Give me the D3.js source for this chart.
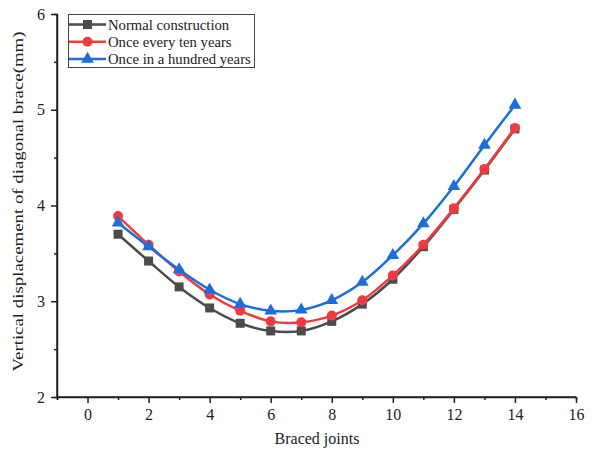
<!DOCTYPE html>
<html><head><meta charset="utf-8">
<script src="https://cdn.jsdelivr.net/npm/d3@7"></script>
<style>body{margin:0;background:#fff}svg{display:block}text{font-family:"Liberation Serif","Times New Roman",serif;fill:#222}</style>
</head><body><svg id="c" width="600" height="450"></svg>
<script>
const joints = [1,2,3,4,5,6,7,8,9,10,11,12,13,14];
const normal = [3.70,3.42,3.15,2.93,2.77,2.69,2.69,2.79,2.97,3.23,3.57,3.96,4.37,4.80];
const tenYears = [3.89,3.59,3.31,3.07,2.90,2.79,2.78,2.85,3.01,3.27,3.59,3.97,4.38,4.81];
const hundredYears = [3.82,3.57,3.33,3.12,2.97,2.90,2.91,3.01,3.20,3.48,3.81,4.20,4.63,5.05];
const seriesNames = ["Normal construction","Once every ten years","Once in a hundred years"];
const colors = ["#4b4b4b","#ef3b40","#1b6fdd"];
const markers = ["square","circle","triangle"];
const xTicks = [0,2,4,6,8,10,12,14,16];
const yTicks = [2,3,4,5,6];
const xTitle = "Braced joints";
const yTitle = "Vertical displacement of diagonal brace(mm)";

const svg = d3.select("#c");
const x = d3.scaleLinear().domain([-1,16]).range([57,576]);
const y = d3.scaleLinear().domain([2,6]).range([397,14]);
const axisColor = "#222";

// x axis
const gx = svg.append("g").attr("transform",`translate(0,${y(2)})`);
gx.call(d3.axisBottom(x).tickValues(xTicks).tickSize(6).tickPadding(6).tickFormat(d3.format("d")));
gx.append("g").call(d3.axisBottom(x).tickValues(d3.range(-1,16,2)).tickSize(3).tickFormat(""));
// y axis
const gy = svg.append("g").attr("transform",`translate(${x(-1)},0)`);
gy.call(d3.axisLeft(y).tickValues(yTicks).tickSize(6).tickPadding(6).tickFormat(d3.format("d")));
gy.append("g").call(d3.axisLeft(y).tickValues([2.5,3.5,4.5,5.5]).tickSize(3).tickFormat(""));
svg.selectAll(".domain").attr("stroke",axisColor).attr("stroke-width",1.5);
svg.selectAll(".tick line").attr("stroke",axisColor).attr("stroke-width",1.5);
svg.selectAll(".tick text").style("font-family",'"Liberation Serif",serif').style("font-size","16px").attr("fill","#333");
gx.select(".domain").attr("d",`M${x(-1)},0H${x(16)}`);
gy.select(".domain").attr("d",`M0,${y(2)}V${y(6)}`);

svg.append("text").attr("x",317).attr("y",444).attr("text-anchor","middle")
  .style("font-size","16px").text(xTitle);
svg.append("text").attr("transform",`translate(23,${(y(2)+y(6))/2-4}) rotate(-90)`).attr("text-anchor","middle")
  .style("font-size","14.5px").attr("fill","#333").attr("textLength",340).attr("lengthAdjust","spacingAndGlyphs").text(yTitle);

const data = [normal,tenYears,hundredYears];
const line = d3.line().x((d,i)=>x(joints[i])).y(d=>y(d)).curve(d3.curveCatmullRom.alpha(0.5));

function marker(g, type, color){
  if(type==="square") g.append("rect").attr("x",-4.5).attr("y",-4.5).attr("width",9).attr("height",9).attr("fill",color);
  else if(type==="circle") g.append("circle").attr("r",5).attr("fill",color);
  else g.append("path").attr("d",d3.symbol(d3.symbolTriangle,70)()).attr("fill",color);
}

data.forEach((vals,si)=>{
  svg.append("path").datum(vals).attr("d",line).attr("fill","none").attr("stroke",colors[si]).attr("stroke-width",2.5);
  vals.forEach((v,i)=>{
    const g = svg.append("g").attr("transform",`translate(${x(joints[i])},${y(v)})`);
    marker(g,markers[si],colors[si]);
  });
});

// legend
const lg = svg.append("g");
lg.append("rect").attr("x",68.5).attr("y",14.5).attr("width",186).attr("height",53).attr("fill","#fff").attr("stroke","#444").attr("stroke-width",1);
seriesNames.forEach((n,i)=>{
  const yy = 24.5 + i*17.3;
  lg.append("line").attr("x1",69).attr("x2",106).attr("y1",yy).attr("y2",yy).attr("stroke",colors[i]).attr("stroke-width",2.5);
  const g = lg.append("g").attr("transform",`translate(87.5,${yy})`);
  marker(g,markers[i],colors[i]);
  lg.append("text").attr("x",108).attr("y",yy+5).style("font-size","14.7px").text(n);
});
</script></body></html>
